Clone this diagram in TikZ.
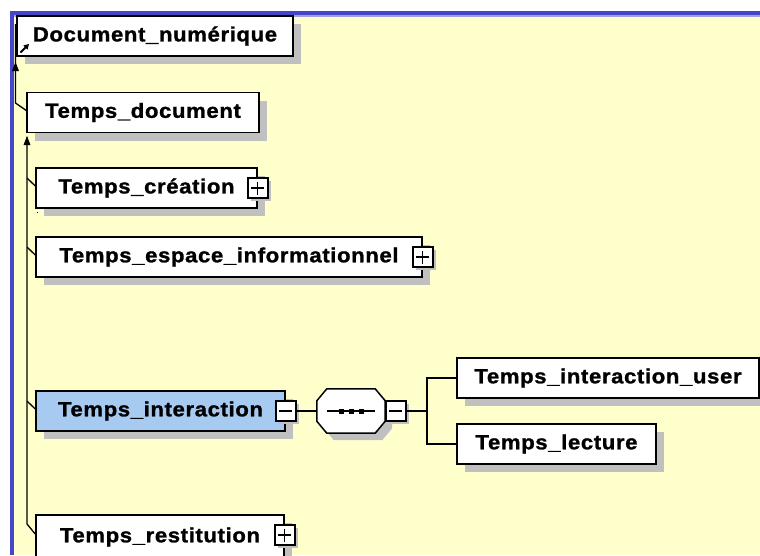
\documentclass[tikz,border=0pt]{standalone}
\usepackage{fontspec}
\setmainfont{Liberation Sans}[FakeStretch=1.08, LetterSpace=3, FakeBold=1.2]
\usetikzlibrary{shadows,arrows.meta}
\definecolor{bg}{HTML}{FFFFCC}
\definecolor{frameblue}{HTML}{4646C8}
\definecolor{framelight}{HTML}{A0A0E0}
\definecolor{shadowgray}{HTML}{C0C0C0}
\definecolor{selblue}{HTML}{A6CAF0}
\begin{document}
\begin{tikzpicture}[x=1pt,y=-1pt,
  elem/.style={draw, line width=1.5pt, fill=white, minimum height=40pt, inner sep=0pt,
    font=\bfseries\fontsize{20.5}{24}\selectfont,
    general shadow={fill=shadowgray, shadow xshift=8pt, shadow yshift=-8pt}},
  pmbox/.style={draw, line width=1.5pt, fill=white, minimum size=20pt, inner sep=0pt,
    general shadow={fill=shadowgray, shadow xshift=3pt, shadow yshift=-3pt},
    path picture={\draw[line width=1.4pt] ([xshift=-6.5pt]path picture bounding box.center) -- ([xshift=6.5pt]path picture bounding box.center);}},
  plusbox/.style={pmbox,
    postaction={path picture={\draw[line width=1.4pt] ([yshift=-6.5pt]path picture bounding box.center) -- ([yshift=6.5pt]path picture bounding box.center);}}},
  conn/.style={draw, line width=1.3pt},
  tip/.style={fill=black}]
\useasboundingbox (0,0) rectangle (760,555);
% background and frame
\fill[white] (0,0) rectangle (760,555);
\fill[bg] (10,11) rectangle (760,555);
\fill[framelight] (14,15) rectangle (760,16.5);
\fill[frameblue] (10,11) rectangle (760,15);
\fill[frameblue] (10,11) rectangle (14,555);

\coordinate (t1top) at (15.5,24);
\coordinate (t1bend) at (15.5,103);
\coordinate (t2top) at (27,137);
\coordinate (t2bot) at (27,524);

% nodes
\node[elem, minimum width=276pt] (doc) at (155,36) {Document\_numérique};
\node[elem, minimum width=232pt] (tdoc) at (143,112.5) {Temps\_document};
\node[elem, minimum width=221pt] (tcre) at (146.5,188) {Temps\_création\hspace{10pt}};
\node[elem, minimum width=386pt] (tesp) at (229,257) {Temps\_espace\_informationnel\hspace{13pt}};
\node[elem, minimum width=249pt, fill=selblue] (tint) at (160.5,411) {Temps\_interaction\hspace{6pt}};
\node[elem, minimum width=248pt, minimum height=44pt] (tres) at (160,537) {Temps\_restitution\hspace{8pt}};
\node[elem, minimum width=302pt] (tiu) at (608,378) {Temps\_interaction\_user};
\node[elem, minimum width=199pt] (tlec) at (556.5,444) {Temps\_lecture};

% sequence compositor (octagon)
\node[minimum width=68pt, minimum height=44pt, inner sep=0pt] (seq) at (351,411) {};
\draw[line width=1.5pt, fill=white, general shadow={fill=shadowgray, shadow xshift=7pt, shadow yshift=-7pt}]
  ([xshift=10pt]seq.north west) -- ([xshift=-10pt]seq.north east) -- ([yshift=-12pt]seq.north east)
  -- ([yshift=12pt]seq.south east) -- ([xshift=-10pt]seq.south east) -- ([xshift=10pt]seq.south west)
  -- ([yshift=12pt]seq.south west) -- ([yshift=-12pt]seq.north west) -- cycle;
\draw[line width=1.3pt] ([xshift=-24pt]seq.center) -- ([xshift=24pt]seq.center);
\foreach \dx in {-10,0,10}
  \fill ([xshift=\dx pt-2.5pt, yshift=-2.5pt]seq.center) rectangle ([xshift=\dx pt+2.5pt, yshift=2.5pt]seq.center);

% expand / collapse squares
\node[plusbox] (pcre) at (tcre.east) {};
\node[plusbox] (pesp) at (tesp.east) {};
\node[pmbox] (mint) at (tint.east) {};
\node[plusbox] (pres) at ([yshift=2pt]tres.east) {};
\node[pmbox, anchor=west] (mseq) at (seq.east) {};

% connectors
\draw[conn] (t1top) -- (t1bend) -- ([yshift=2pt]tdoc.west);
\fill[tip] (15.5,62) -- (12,71) -- (19,71) -- cycle;
\draw[conn] (t2top) -- (t2bot) -- ([yshift=3pt]tres.west);
\fill[tip] (27,136) -- (23.5,145) -- (30.5,145) -- cycle;
\draw[conn] (27,178) -- ([yshift=2pt]tcre.west);
\draw[conn] (27,247) -- ([yshift=2pt]tesp.west);
\draw[conn] (27,401) -- ([yshift=2pt]tint.west);
\fill (36.5,211.5) rectangle (38,213);

\draw[conn] (mint.east) -- (seq.west);
\coordinate (bu) at (427,378);
\coordinate (bl) at (427,444);
\draw[conn] (mseq.east) -- (mseq.east -| bu);
\draw[conn] (tiu.west) -- (bu) -- (bl) -- (tlec.west);

% link arrow icon
\draw[line width=1.8pt, -{Triangle[length=5pt,width=5.5pt]}] (20.5,52.5) -- (29,44);
\end{tikzpicture}
\end{document}
